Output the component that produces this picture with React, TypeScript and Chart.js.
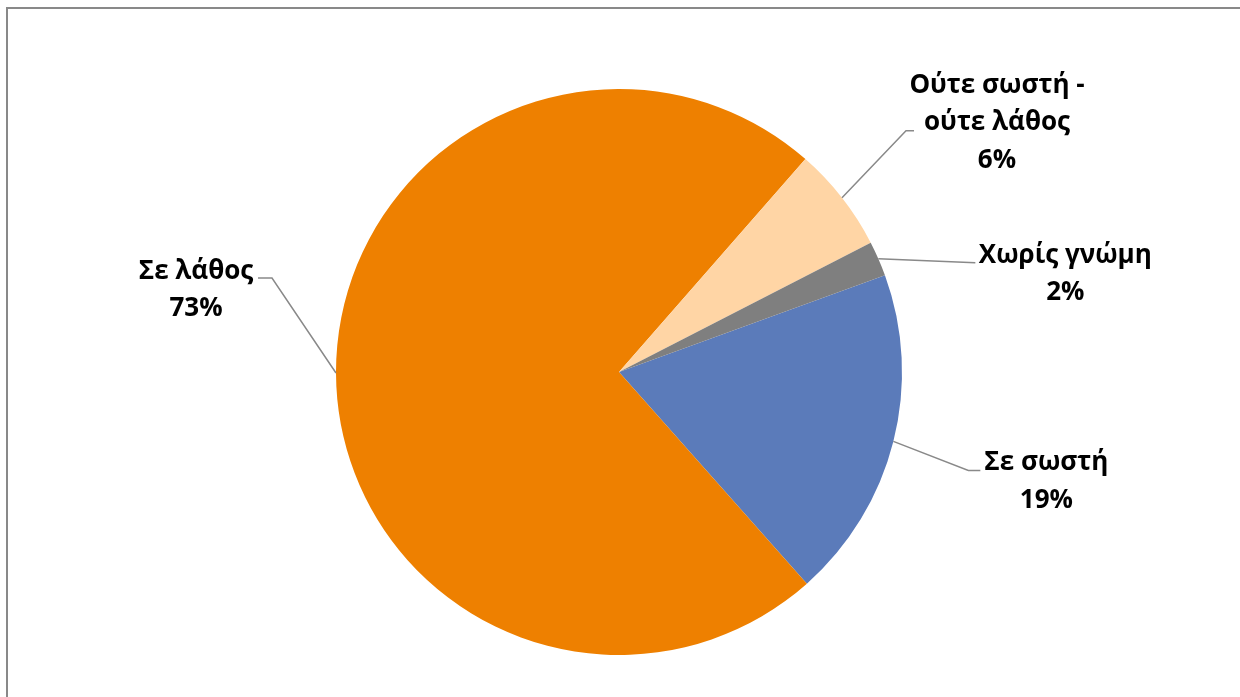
import React, { useEffect, useRef } from "react";
import { Chart, registerables } from "chart.js";
Chart.register(...registerables);

const categories = ["Σε σωστή", "Σε λάθος", "Ούτε σωστή - ούτε λάθος", "Χωρίς γνώμη"];
const labelLines = [["Σε σωστή"], ["Σε λάθος"], ["Ούτε σωστή -", "ούτε λάθος"], ["Χωρίς γνώμη"]];
const values = [19, 73, 6, 2];
const percentLabels = ["19%", "73%", "6%", "2%"];
const colors = ["#5B7BBA", "#EE8000", "#FFD5A5", "#7F7F7F"];

// label placement relative to the slice's outer mid point (styling only)
const placements = [
  { dx: 153, dy: 29, leader: [[75, 29], [87, 29]] },
  { dx: -140, dy: -94, leader: [[-64, -95], [-78, -95]] },
  { dx: 155, dy: -105, leader: [[64, -67], [72, -67]] },
  { dx: 187, dy: 4, leader: [[97, 4]] },
];

const FONT = "bold 26px 'Open Sans', 'Noto Sans', sans-serif";
const LINE_H = 37.5;

const labelPlugin = {
  id: "pieLabels",
  afterDraw(chart: any) {
    const ctx = chart.ctx;
    // frame
    ctx.save();
    ctx.strokeStyle = "#898989";
    ctx.lineWidth = 2;
    ctx.beginPath();
    ctx.moveTo(7, chart.height + 5);
    ctx.lineTo(7, 8);
    ctx.lineTo(chart.width + 5, 8);
    ctx.stroke();
    ctx.restore();

    const meta = chart.getDatasetMeta(0);
    meta.data.forEach((arc: any, i: number) => {
      const mid = (arc.startAngle + arc.endAngle) / 2;
      const ex = arc.x + Math.cos(mid) * arc.outerRadius;
      const ey = arc.y + Math.sin(mid) * arc.outerRadius;
      const p = placements[i];
      ctx.save();
      ctx.strokeStyle = "#898989";
      ctx.lineWidth = 1.5;
      ctx.beginPath();
      ctx.moveTo(ex, ey);
      p.leader.forEach((pt) => ctx.lineTo(ex + pt[0], ey + pt[1]));
      ctx.stroke();
      ctx.fillStyle = "#000000";
      ctx.font = FONT;
      ctx.textAlign = "center";
      ctx.textBaseline = "alphabetic";
      const lines = [...labelLines[i], percentLabels[i]];
      lines.forEach((t, k) => {
        ctx.fillText(t, ex + p.dx, ey + p.dy + k * LINE_H);
      });
      ctx.restore();
    });
  },
};

export default function App() {
  const ref = useRef<HTMLCanvasElement | null>(null);
  useEffect(() => {
    if (!ref.current) return;
    const chart = new Chart(ref.current, {
      type: "pie",
      data: {
        labels: categories,
        datasets: [
          {
            data: values,
            backgroundColor: colors,
            borderWidth: 0,
          },
        ],
      },
      options: {
        responsive: false,
        animation: false,
        rotation: 70,
        layout: { padding: { left: 336, right: 338, top: 89, bottom: 42 } },
        plugins: {
          legend: { display: false },
          tooltip: { enabled: false },
        },
      },
      plugins: [labelPlugin],
    });
    return () => chart.destroy();
  }, []);
  return (
    <div style={{ position: "fixed", left: 0, top: 0, width: 1240, height: 697, background: "#fff" }}>
      <canvas ref={ref} width={1240} height={697} style={{ display: "block" }} />
    </div>
  );
}
